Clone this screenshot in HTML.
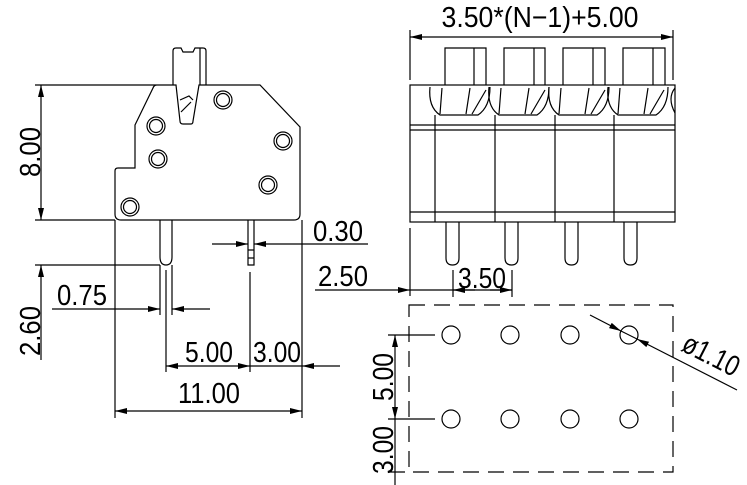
<!DOCTYPE html>
<html><head><meta charset="utf-8"><style>html,body{margin:0;padding:0;background:#fff}svg{display:block}
text{font-family:"Liberation Sans",sans-serif;font-size:29px;fill:#000}</style></head>
<body>
<svg width="747" height="485" viewBox="0 0 747 485" xmlns="http://www.w3.org/2000/svg">
<defs>
<marker id="a" viewBox="0 0 12 6" refX="12" refY="3" markerWidth="12" markerHeight="6" orient="auto-start-reverse" markerUnits="userSpaceOnUse"><path d="M0,0L12,3L0,6z" fill="#000"/></marker>
</defs>
<g fill="none" stroke="#000" stroke-width="1.2">
<path d="M173,85V51q0-3 3-3h5l2,4h10l2-4h8q3,0 3,3V85"/>
<line x1="200" y1="48" x2="200" y2="85"/>
<path d="M153,85H176L180,121q0,3 3,3h8q2,0 2-3L199,85H260L300,127V214q0,6-6,6H121q-6,0-6-6V171q0-3 3-3h17V125L153,88q1-3 4-3z"/>
<path d="M180,100l9-4 4,4M181,112l10-10"/>
<g><circle cx="156" cy="126" r="9"/><circle cx="156" cy="126" r="6.5"/>
<circle cx="158" cy="159" r="9"/><circle cx="158" cy="159" r="6.5"/>
<circle cx="223" cy="100" r="9"/><circle cx="223" cy="100" r="6.5"/>
<circle cx="283" cy="141" r="9"/><circle cx="283" cy="141" r="6.5"/>
<circle cx="268" cy="185" r="9"/><circle cx="268" cy="185" r="6.5"/>
<circle cx="130" cy="207" r="9"/><circle cx="130" cy="207" r="6.5"/></g>
<path d="M160,220V257q0,8 6,8q6,0 6-8V220"/>
<path d="M248,220V265h6V220M248,250h6M248,258h6"/>
<line x1="35" y1="85" x2="153" y2="85"/>
<line x1="35" y1="220" x2="115" y2="220"/>
<line x1="41" y1="85" x2="41" y2="220" marker-start="url(#a)" marker-end="url(#a)"/>
<line x1="35" y1="265" x2="160" y2="265"/>
<line x1="41" y1="360" x2="41" y2="265" marker-end="url(#a)"/>
<line x1="52" y1="309" x2="160" y2="309" marker-end="url(#a)"/>
<line x1="210" y1="309" x2="172" y2="309" marker-end="url(#a)"/>
<line x1="160" y1="265" x2="160" y2="315"/><line x1="172" y1="265" x2="172" y2="315"/>
<line x1="212" y1="244" x2="248" y2="244" marker-end="url(#a)"/>
<line x1="368" y1="244" x2="254" y2="244" marker-end="url(#a)"/>
<line x1="166" y1="270" x2="166" y2="372"/>
<line x1="250" y1="272" x2="250" y2="372"/>
<line x1="302" y1="220" x2="302" y2="418"/>
<line x1="115" y1="220" x2="115" y2="418"/>
<line x1="166" y1="366" x2="250" y2="366" marker-start="url(#a)" marker-end="url(#a)"/>
<line x1="250" y1="366" x2="302" y2="366"/>
<line x1="340" y1="366" x2="302" y2="366" marker-end="url(#a)"/>
<line x1="115" y1="411" x2="302" y2="411" marker-start="url(#a)" marker-end="url(#a)"/>
<line x1="315" y1="290" x2="410" y2="290" marker-end="url(#a)"/>
<line x1="410" y1="30" x2="410" y2="80"/><line x1="673" y1="30" x2="673" y2="80"/>
<line x1="410" y1="37" x2="673" y2="37" marker-start="url(#a)" marker-end="url(#a)"/>
<rect x="410" y="85" width="265" height="137"/>
<line x1="410" y1="125" x2="675" y2="125"/><line x1="410" y1="130" x2="675" y2="130"/>
<line x1="410" y1="212" x2="675" y2="212"/>
<line x1="435" y1="115" x2="435" y2="222"/><line x1="495" y1="115" x2="495" y2="222"/>
<line x1="555" y1="115" x2="555" y2="222"/><line x1="614" y1="115" x2="614" y2="222"/>
<g>
<path d="M445,85V48H486V85M474,48V85"/>
<path d="M504,85V48H545V85M534,48V85"/>
<path d="M563,85V48H605V85M593,48V85"/>
<path d="M623,85V48H665V85M653,48V85"/>
<path d="M430,87q-2,20 10,28H478q12,-8 12,-28M442,88l-2,26M470,88l-4,26M486,90l-14,24"/>
<path d="M489,87q-2,20 10,28H537q12,-8 12,-28M501,88l-2,26M529,88l-4,26M545,90l-14,24"/>
<path d="M549,87q-2,20 10,28H597q12,-8 12,-28M561,88l-2,26M589,88l-4,26M605,90l-14,24"/>
<path d="M608,87q-2,20 10,28H656q12,-8 12,-28M620,88l-2,26M648,88l-4,26M664,90l-14,24"/>
<path d="M675,88q-8,10 0,25"/>
</g>
<path d="M446,222V258q0,7 6.5,7q6.5,0 6.5-7V222"/>
<path d="M505,222V258q0,7 6.5,7q6.5,0 6.5-7V222"/>
<path d="M565,222V258q0,7 6.5,7q6.5,0 6.5-7V222"/>
<path d="M624,222V258q0,7 6.5,7q6.5,0 6.5-7V222"/>
<line x1="410" y1="228" x2="410" y2="296"/>
<line x1="453" y1="270" x2="453" y2="297"/><line x1="512" y1="270" x2="512" y2="297"/>
<line x1="410" y1="290" x2="512" y2="290"/>
<line x1="475" y1="290" x2="453" y2="290" marker-end="url(#a)"/>
<line x1="490" y1="290" x2="512" y2="290" marker-end="url(#a)"/>
<rect x="409" y="305" width="264" height="167" stroke-dasharray="16,9"/>
<circle cx="451" cy="335" r="9"/><circle cx="510" cy="335" r="9"/><circle cx="570" cy="335" r="9"/><circle cx="629" cy="335" r="9"/>
<circle cx="451" cy="419" r="9"/><circle cx="510" cy="419" r="9"/><circle cx="570" cy="419" r="9"/><circle cx="629" cy="419" r="9"/>
<line x1="388" y1="335" x2="435" y2="335"/><line x1="388" y1="419" x2="435" y2="419"/>
<line x1="388" y1="472" x2="405" y2="472"/>
<line x1="395" y1="335" x2="395" y2="419" marker-start="url(#a)" marker-end="url(#a)"/>
<line x1="395" y1="419" x2="395" y2="485"/>
<line x1="590" y1="315" x2="621" y2="331" marker-end="url(#a)"/>
<line x1="737" y1="390" x2="637" y2="339" marker-end="url(#a)"/>
<line x1="621" y1="331" x2="637" y2="339"/>
</g>
<text x="540" y="27" text-anchor="middle" textLength="197" lengthAdjust="spacingAndGlyphs">3.50*(N−1)+5.00</text>
<text transform="translate(40,152) rotate(-90)" text-anchor="middle" textLength="50" lengthAdjust="spacingAndGlyphs">8.00</text>
<text transform="translate(40,331) rotate(-90)" text-anchor="middle" textLength="50" lengthAdjust="spacingAndGlyphs">2.60</text>
<text x="57" y="305" textLength="50" lengthAdjust="spacingAndGlyphs">0.75</text>
<text x="313" y="241" textLength="50" lengthAdjust="spacingAndGlyphs">0.30</text>
<text x="318" y="286" textLength="50" lengthAdjust="spacingAndGlyphs">2.50</text>
<text x="185" y="362" textLength="48" lengthAdjust="spacingAndGlyphs">5.00</text>
<text x="253" y="362" textLength="48" lengthAdjust="spacingAndGlyphs">3.00</text>
<text x="178" y="403" textLength="62" lengthAdjust="spacingAndGlyphs">11.00</text>
<text x="458" y="288" textLength="48" lengthAdjust="spacingAndGlyphs">3.50</text>
<text transform="translate(393,377) rotate(-90)" text-anchor="middle" textLength="48" lengthAdjust="spacingAndGlyphs">5.00</text>
<text transform="translate(393,450) rotate(-90)" text-anchor="middle" textLength="48" lengthAdjust="spacingAndGlyphs">3.00</text>
<text transform="translate(680,350) rotate(27)" textLength="60" lengthAdjust="spacingAndGlyphs">ø1.10</text>
</svg>
</body></html>
